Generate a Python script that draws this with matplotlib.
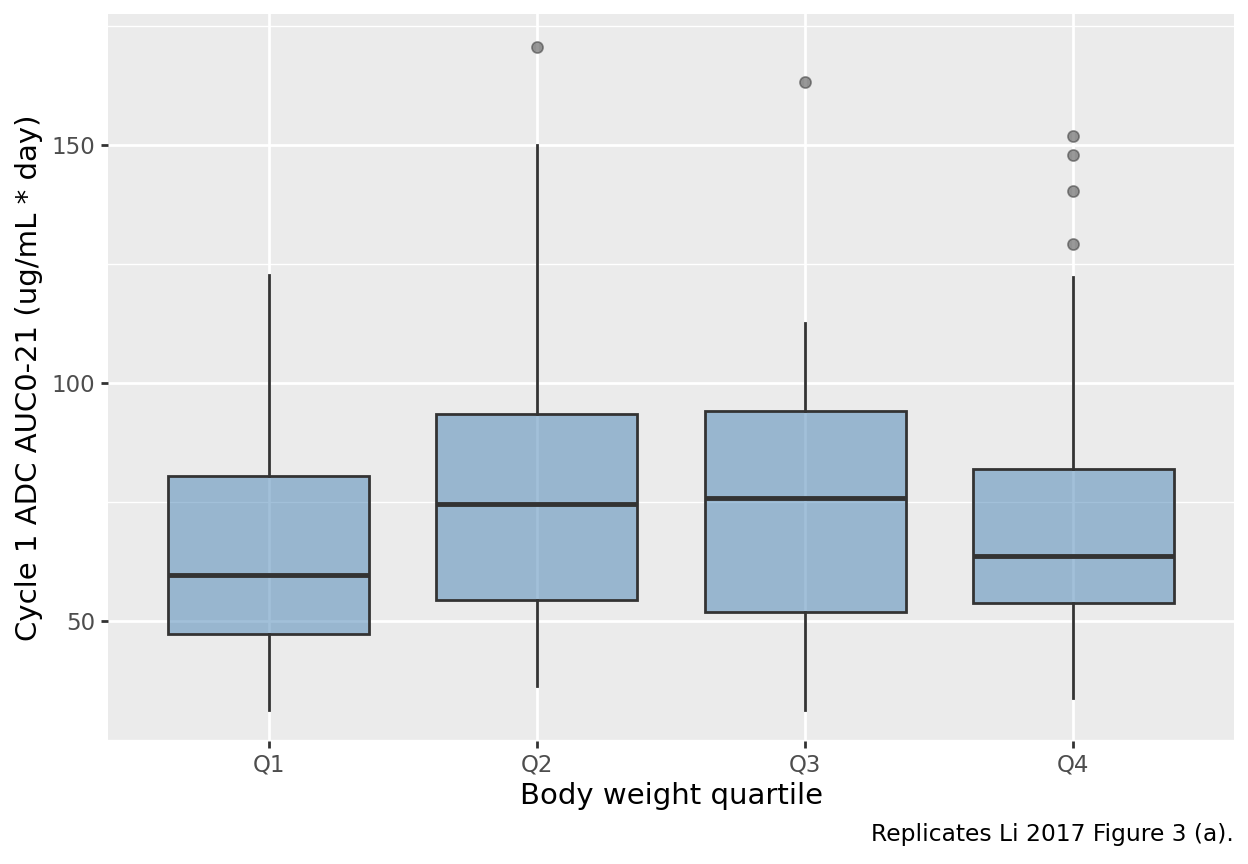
import matplotlib
matplotlib.use("Agg")
import matplotlib.pyplot as plt
from matplotlib.ticker import MultipleLocator

categories = ["Q1", "Q2", "Q3", "Q4"]
whisker_low = [31.3, 36.3, 31.3, 33.8]
box_q1 = [47.3, 54.4, 51.9, 53.8]
box_median = [59.7, 74.6, 75.8, 63.7]
box_q3 = [80.5, 93.5, 94.1, 81.9]
whisker_high = [122.7, 150.0, 112.6, 122.3]
outliers = [[], [170.6], [163.2], [151.9, 147.9, 140.3, 129.2]]

plt.rcParams['font.family'] = ['DejaVu Sans']
fig = plt.figure(figsize=(12.48, 8.64), dpi=100)
ax = fig.add_axes([108/1248, 1 - 741/864, (1234-108)/1248, (741-14)/864])
ax.set_facecolor("#EBEBEB")
for s in ax.spines.values():
    s.set_visible(False)

stats = []
for i, c in enumerate(categories):
    stats.append(dict(label=c, whislo=whisker_low[i], q1=box_q1[i], med=box_median[i],
                      q3=box_q3[i], whishi=whisker_high[i], fliers=outliers[i]))

pos = list(range(1, len(categories) + 1))
bp = ax.bxp(stats, positions=pos, widths=0.75, patch_artist=True, showcaps=False,
            boxprops=dict(facecolor=(70/255, 130/255, 180/255, 0.5), edgecolor="#333333", linewidth=2),
            medianprops=dict(color="#333333", linewidth=3.5, solid_capstyle="butt"),
            whiskerprops=dict(color="#333333", linewidth=2),
            flierprops=dict(marker="o", markersize=8, markerfacecolor="#555555",
                            markeredgecolor="#444444", alpha=0.6, markeredgewidth=1.2),
            zorder=3)

ax.set_xlim(0.4, 4.6)
ax.set_ylim(24.8, 177.5)
ax.yaxis.set_major_locator(MultipleLocator(50))
ax.yaxis.set_minor_locator(MultipleLocator(25))
ax.set_xticks(pos)
ax.set_xticklabels(categories)
ax.grid(which="major", color="white", linewidth=2, zorder=0)
ax.grid(which="minor", axis="y", color="white", linewidth=1, zorder=0)
ax.set_axisbelow(True)
ax.tick_params(which="major", length=5, width=2, color="#333333", labelsize=16.5,
               labelcolor="#4D4D4D", pad=4)
ax.tick_params(which="minor", length=0)

ax.set_xlabel("Body weight quartile", fontsize=21, color="black", labelpad=4)
ax.set_ylabel("Cycle 1 ADC AUC0-21 (ug/mL * day)", fontsize=21, color="black", labelpad=6)
fig.text(1234/1248, 1 - 835/864, "Replicates Li 2017 Figure 3 (a).", ha="right", va="center",
         fontsize=16.8, color="black")

fig.savefig("out.png", dpi=100, facecolor="white")
